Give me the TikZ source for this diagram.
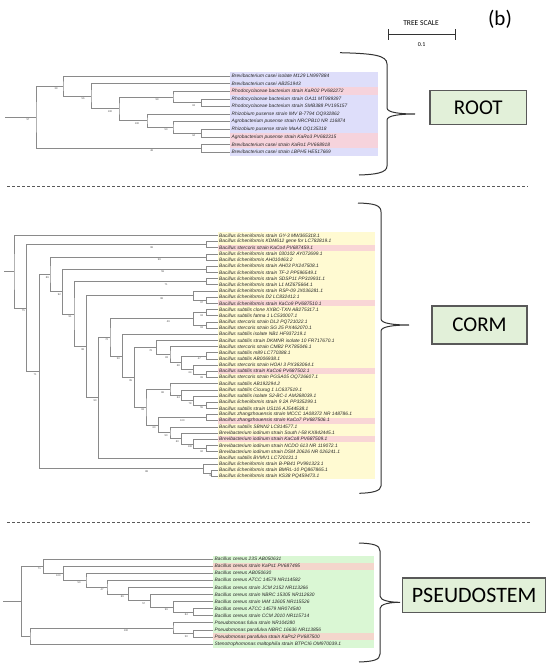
\documentclass[tikz,border=0pt]{standalone}
\usepackage{fontspec}
\setmainfont{Liberation Sans}
\newfontfamily\calib{Carlito}
\usetikzlibrary{calc}
\definecolor{lav}{HTML}{DEDEFA}
\definecolor{lavpink}{HTML}{F6D3DC}
\definecolor{yel}{HTML}{FFFAD2}
\definecolor{yelpink}{HTML}{F9D6D6}
\definecolor{grn}{HTML}{DAF7D4}
\definecolor{grnpink}{HTML}{F4D6CC}
\definecolor{boxfill}{HTML}{E2F0D9}
\definecolor{treeline}{HTML}{8A8A8A}
\tikzset{
  tline/.style={draw=treeline, line width=0.55pt},
  leaftxt/.style={anchor=west, inner sep=0pt, font=\itshape\fontsize{4.85}{5}\selectfont, text=black!85},
  bslab/.style={inner sep=0pt, font=\fontsize{2.6}{3}\selectfont, text=black!70},
  bracket/.style={draw=black!80, line width=1pt},
  sbox/.style={draw=black!65, line width=1.1pt, fill=boxfill, inner sep=0pt},
  sep/.style={draw=black!65, line width=0.9pt, dash pattern=on 3pt off 2pt}
}
\newcommand{\leafat}[4]{\coordinate (#1) at ({#2},{#3});\node[leaftxt] (#1t) at ({#2+1.5},{#3}) {#4};}
\newcommand{\clade}[6]{%
  \coordinate (#1m) at ($(#3)!.5!(#4)$);
  \coordinate (#1) at ($(#2,0)!(#1m)!(#2,10)$);
  \draw[tline] (#3) -| (#1) |- (#4);
  \node[bslab] (#1b) at ($(#1)+(#6,2.8)$) {#5};}
\begin{document}
\begin{tikzpicture}[x=1pt,y=-1pt]
\useasboundingbox (0,0) rectangle (550,666);
\fill[white] (0,0) rectangle (550,666);

% ---------- tree scale and panel letter
\node[inner sep=0pt, font=\calib\fontsize{7.5}{8}\selectfont] (tsc) at (421,22.7) {TREE SCALE};
\coordinate (tsa) at (388.3,34.3);
\coordinate (tsb) at (455,34.3);
\draw[black!80, line width=0.8pt] (tsa) -- (tsb);
\draw[black!80, line width=0.8pt] ($(tsa)+(0,-5)$) -- ($(tsa)+(0,5.5)$);
\draw[black!80, line width=0.8pt] ($(tsb)+(0,-5)$) -- ($(tsb)+(0,5.5)$);
\node[inner sep=0pt, font=\calib\fontsize{6}{7}\selectfont] (tsv) at (421.7,44.5) {0.1};
\node[inner sep=0pt, font=\calib\fontsize{21}{24}\selectfont] (pl) at (500,19) {(b)};

% ---------- separators
\coordinate (s1a) at (7,186); \coordinate (s1b) at (528,186);
\draw[sep] (s1a) -- (s1b);
\coordinate (s2a) at (7,522.5); \coordinate (s2b) at (531,522.5);
\draw[sep] (s2a) -- (s2b);

% ================= ROOT =================
\fill[lav] (230,72.2) rectangle (378,155.8);
\foreach \r in {3,9,10} {\fill[lavpink] (230,{76+(\r-1)*7.6-3.8}) rectangle (378,{76+(\r-1)*7.6+3.8});}
\leafat{a1}{230}{76}{Brevibacterium casei isolate M129 LN997884}
\leafat{a2}{230}{83.6}{Brevibacterium casei AB251943}
\leafat{a3}{230}{91.2}{Rhodocyclaceae bacterium strain KaR02 PV682272}
\leafat{a4}{230}{98.8}{Rhodocyclaceae bacterium strain OA11 MT989397}
\leafat{a5}{230}{106.4}{Rhodocyclaceae bacterium strain SMB388 PV195157}
\leafat{a6}{230}{114}{Rhizobium pusense strain IMV B-7794 OQ932862}
\leafat{a7}{230}{121.6}{Agrobacterium pusense strain NRCPB10 NR 116874}
\leafat{a8}{230}{129.2}{Rhizobium pusense strain MaA4 OQ135318}
\leafat{a9}{230}{136.8}{Agrobacterium pusense strain KaRo3 PV682315}
\leafat{a10}{230}{144.4}{Brevibacterium casei strain KaRo1 PV668918}
\leafat{a11}{230}{152}{Brevibacterium casei strain LBPH5 HE517669}
\clade{rE}{201.7}{a4}{a5}{63}{-8}
\clade{rD}{173}{a3}{rE}{99}{-16}
\clade{rI}{201.7}{a8}{a9}{64}{-8}
\clade{rH}{173}{a7}{rI}{50}{-7}
\clade{rF}{147}{a6}{rH}{100}{-10}
\clade{rC}{119}{rD}{rF}{100}{-9}
\clade{rB}{91}{a2}{rC}{56}{-8}
\clade{rA}{63}{a1}{rB}{39}{-7}
\clade{rJ}{201.7}{a10}{a11}{48}{-50}
\clade{rR}{36}{rA}{rJ}{57}{-8}
\coordinate (rroot) at ($(rR)+(-31,0)$);
\draw[tline] (rroot) -- (rR);

\draw[bracket] (340,52.7) .. controls (372,53.5) and (387,55) .. (387,64) -- (387,108) .. controls (387,112.5) and (400,114) .. (415,114) .. controls (400,114) and (387,115.5) .. (387,120) -- (387,166) .. controls (387,173) and (375,174.5) .. (359,175);
\node[sbox, minimum width=96.7pt, minimum height=33.6pt, font=\calib\fontsize{21}{24}\selectfont] (rootbox) at (478.3,107.5) {ROOT};

% ================= CORM =================
\fill[yel] (217.5,232.1) rectangle (375,479.2);
\foreach \r in {3,12,23,31,34} {\fill[yelpink] (217.5,{235.3+(\r-1)*6.18-3.09}) rectangle (375,{235.3+(\r-1)*6.18+3.09});}
\foreach \i/\t in {1/Bacillus licheniformis strain GY-3 MW365318.1,
2/Bacillus licheniformis KDM612 gene for LC782819.1,
3/Bacillus stercoris strain KaCo4 PV687459.1,
4/Bacillus licheniformis strain 030102 AY072699.1,
5/Bacillus licheniformis AH010463.2,
6/Bacillus licheniformis strain AH03 PX247508.1,
7/Bacillus licheniformis strain TF-2 PP596549.1,
8/Bacillus licheniformis strain SDSP11 PP319931.1,
9/Bacillus licheniformis strain L1 MZ675664.1,
10/Bacillus licheniformis strain RSP-09 JX036281.1,
11/Bacillus licheniformis D2 LC832412.1,
12/Bacillus licheniformis strain KaCo9 PV687510.1,
13/Bacillus subtilis clone XXBC-TXN AB275317.1,
14/Bacillus subtilis fatma 1 LC530007.1,
15/Bacillus stercoris strain DL2 PQ721022.1,
16/Bacillus stercoris strain SG 25 PX462070.1,
17/Bacillus subtilis isolate NB1 HF937219.1,
18/Bacillus subtilis strain DKMNR isolate 10 FR717670.1,
19/Bacillus stercoris strain CMB2 PX785046.1,
20/Bacillus subtilis m89 LC770388.1,
21/Bacillus subtilis AB006938.1,
22/Bacillus stercoris strain HOAI 3 PX363064.1,
23/Bacillus subtilis strain KaCo6 PV687502.1,
24/Bacillus stercoris strain PGSA05 OQ726607.1,
25/Bacillus subtilis AB192294.2,
26/Bacillus subtilis Cicurug 1 LC637519.1,
27/Bacillus subtilis isolate S2-BC-1 AM268039.1,
28/Bacillus licheniformis strain 9 2A PP335299.1,
29/Bacillus subtilis strain US116 AJ544538.1,
30/Bacillus zhangzhouensis strain MCCC 1A08372 NR 148786.1,
31/Bacillus zhangzhouensis strain KaCo7 PV687506.1,
32/Bacillus subtilis SBNN2 LC814577.1,
33/Brevibacterium iodinum strain South I-58 KX842445.1,
34/Brevibacterium iodinum strain KaCo8 PV687509.1,
35/Brevibacterium iodinum strain NCDO 613 NR 119072.1,
36/Brevibacterium iodinum strain DSM 20626 NR 026241.1,
37/Bacillus subtilis BVMV1 LC720131.1,
38/Bacillus licheniformis strain B-PB41 PV991323.1,
39/Bacillus licheniformis strain BMRL-10 PQ867865.1,
40/Bacillus licheniformis strain KS38 PQ459473.1}
{\leafat{c\i}{217.5}{235.3+(\i-1)*6.18}{\t}}
\clade{cP23}{206.7}{c2}{c3}{98}{-55}
\clade{cP45}{206.7}{c4}{c5}{99}{-47.4}
\clade{cP67}{206.7}{c6}{c7}{59}{-44}
\clade{cP89}{206.7}{c8}{c9}{71}{-40.7}
\clade{cP1112}{206.7}{c11}{c12}{97}{-5}
\clade{cQ}{193.3}{c10}{cP1112}{98}{-31.6}
\clade{cP1314}{206.7}{c13}{c14}{63}{-5}
\clade{cP1516}{206.7}{c15}{c16}{63}{-5}
\clade{cS1}{193.3}{cP1314}{cP1516}{49}{-25}
\clade{cP2021}{206.7}{c20}{c21}{47}{-7.4}
\clade{cP2324}{206.7}{c23}{c24}{69}{-5}
\clade{cNm}{193.3}{c22}{cP2324}{64}{-3.3}
\clade{cNl}{181.7}{cP2021}{cNm}{68}{-3.4}
\clade{cNk}{170}{c19}{cNl}{83}{-3.3}
\clade{cNj}{156.7}{c18}{cNk}{76}{-6}
\clade{cP2829}{206.7}{c28}{c29}{55}{-5}
\clade{cNr}{193.3}{c27}{cP2829}{78}{-3.3}
\clade{cNq}{181.7}{c26}{cNr}{64}{-3.4}
\clade{cNp}{170}{c25}{cNq}{86}{-7.3}
\clade{cP3031}{206.7}{c30}{c31}{100}{-24.4}
\clade{cP3536}{206.7}{c35}{c36}{62}{-5}
\clade{cNv}{193.3}{c34}{cP3536}{100}{-3.3}
\clade{cNu}{181.7}{c33}{cNv}{60}{-4.4}
\clade{cNt}{170}{c32}{cNu}{90}{-4}
\clade{cNs}{158.3}{cP3031}{cNt}{60}{-4.3}
\clade{cNo}{146}{cNp}{cNs}{93}{-3.3}
\clade{cNi}{134.3}{cNj}{cNo}{95}{-3.6}
\clade{cNh}{122.7}{c17}{cNi}{50}{-4.4}
\clade{cNg}{110}{cS1}{cNh}{72}{-3.3}
\clade{cNf}{98.3}{cNg}{c37}{90}{-3.3}
\clade{cNe}{86.7}{cQ}{cNf}{98}{-4}
\clade{cNd}{74}{cP89}{cNe}{91}{-4}
\clade{cNc}{62.7}{cP67}{cNd}{92}{-3.4}
\clade{cNb}{50}{cP45}{cNc}{89}{-2.7}
\clade{cP3940}{211.7}{c39}{c40}{92}{-1}
\clade{cG}{203.3}{c38}{cP3940}{88}{-56.6}
\clade{cM}{39.3}{cNb}{cG}{71}{-4.3}
\clade{cNa}{26.7}{cP23}{cM}{75}{-3.4}
\clade{cR}{14}{c1}{cNa}{}{-4}
\coordinate (croot) at ($(cR)+(-10,0)$);
\draw[tline] (croot) -- (cR);

\draw[bracket] (358,203) .. controls (374,203.5) and (381,205) .. (381,212) -- (381,319) .. controls (381,323.5) and (394,325) .. (409,325) .. controls (394,325) and (381,326.5) .. (381,331) -- (381,486) .. controls (381,491) and (372,493) .. (359.3,493.3);
\node[sbox, minimum width=95pt, minimum height=38pt, font=\calib\fontsize{21}{24}\selectfont] (cormbox) at (479.5,325) {CORM};

% ================= PSEUDOSTEM =================
\fill[grn] (213,555.5) rectangle (374,647.5);
\foreach \r in {2,12} {\fill[grnpink] (213,{559+(\r-1)*7.08-3.54}) rectangle (374,{559+(\r-1)*7.08+3.54});}
\foreach \i/\t in {1/Bacillus cereus 23S AB050631,
2/Bacillus cereus strain KaPs1 PV687495,
3/Bacillus cereus AB050630,
4/Bacillus cereus ATCC 14579 NR114582,
5/Bacillus cereus strain JCM 2152 NR113266,
6/Bacillus cereus strain NBRC 15305 NR112630,
7/Bacillus cereus strain IAM 12605 NR115526,
8/Bacillus cereus ATCC 14579 NR074540,
9/Bacillus cereus strain CCM 2010 NR115714,
10/Pseudomonas fulva strain NR104280,
11/Pseudomonas parafulva NBRC 16636 NR113856,
12/Pseudomonas parafulva strain KaPs2 PV687500,
13/Stenotrophomonas maltophilia strain BTPCI6 OM970039.1}
{\leafat{p\i}{213}{559+(\i-1)*7.08}{\t}}
\clade{pA8}{193.3}{p8}{p9}{84}{-7}
\clade{pA7}{173.3}{p7}{pA8}{99}{-7}
\clade{pA6}{150.7}{p6}{pA7}{57}{-7}
\clade{pA5}{128.3}{p5}{pA6}{89}{-6}
\clade{pA4}{107}{p4}{pA5}{47}{-5}
\clade{pA3}{86}{p3}{pA4}{50}{-7}
\clade{pA2}{63.3}{p2}{pA3}{100}{-5}
\clade{pA1}{43.3}{p1}{pA2}{71}{-4}
\clade{pS2}{193.3}{p11}{p12}{50}{-7}
\clade{pS}{173}{p10}{pS2}{100}{-47}
\clade{pQ}{30}{pS}{p13}{}{-4}
\clade{pP}{21.7}{pA1}{pQ}{}{-4}
\coordinate (proot) at ($(pP)+(-18.4,0)$);
\draw[tline] (proot) -- (pP);

\draw[bracket] (359,543) .. controls (373,543.5) and (380,545) .. (380,551) -- (380,596) .. controls (380,600.5) and (390,602.3) .. (400,602.3) .. controls (390,602.3) and (380,604) .. (380,608.5) -- (380,654) .. controls (380,660) and (373,661.5) .. (359,662);
\node[sbox, minimum width=143pt, minimum height=34.7pt, font=\calib\fontsize{22}{24}\selectfont] (psbox) at (474.2,595.3) {PSEUDOSTEM};
\end{tikzpicture}
\end{document}
